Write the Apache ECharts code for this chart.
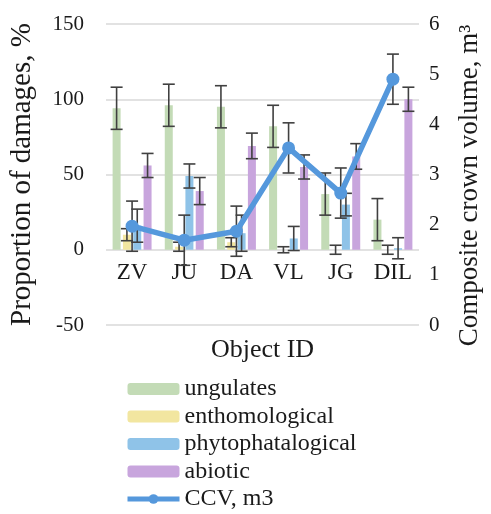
<!DOCTYPE html>
<html>
<head>
<meta charset="utf-8">
<script src="https://cdn.jsdelivr.net/npm/echarts@6/dist/echarts.min.js"></script>
<style>
html,body{margin:0;padding:0;background:#fff;}
#chart{width:491px;height:514px;}
</style>
</head>
<body>
<div id="chart"></div>
<script>
var categories = ['ZV', 'JU', 'DA', 'VL', 'JG', 'DIL'];
var ungulates = [94, 96, 95, 82, 37, 20];
var ungulatesErr = [14, 14, 14, 14, 14, 14];
var enthomological = [10, 2, 5, 0, 0, 0];
var enthomologicalErr = [4, 3, 3, 2, 3, 3];
var phytophatalogical = [16, 49, 11, 7.5, 30, 1];
var phytophatalogicalErr = [11, 8, 12, 8, 7.5, 7];
var abiotic = [56, 39, 69, 55, 62, 100];
var abioticErr = [8, 9, 8.5, 8, 8.5, 8];
var ccv = [1.97, 1.69, 1.87, 3.53, 2.63, 4.9];
var ccvErr = [0.5, 0.5, 0.5, 0.5, 0.5, 0.5];
var leftTicks = [-50, 0, 50, 100, 150];
var rightTicks = [0, 1, 2, 3, 4, 5, 6];

var FONT = '"Liberation Serif", "Times New Roman", serif';
var TXT = '#1a1a1a';
var BAR_W = 8;
var BAR_GAP = 0.29;
var colors = ['#c3dbb6', '#f2e6a0', '#8fc3e8', '#c8a5dd'];
var lineColor = '#5598dc';

var barNames = ['ungulates', 'enthomological', 'phytophatalogical', 'abiotic'];
var barValues = [ungulates, enthomological, phytophatalogical, abiotic];
var barErrs = [ungulatesErr, enthomologicalErr, phytophatalogicalErr, abioticErr];

function errSeries(values, errs, offset, yAxisIndex) {
  var data = values.map(function (v, i) { return [i, v, errs[i]]; });
  return {
    type: 'custom',
    coordinateSystem: 'cartesian2d',
    yAxisIndex: yAxisIndex,
    silent: true,
    z: 5,
    encode: { x: 0, y: 1 },
    data: data,
    renderItem: function (params, api) {
      var c = api.value(0), v = api.value(1), e = api.value(2);
      var top = api.coord([c, v + e]);
      var bot = api.coord([c, v - e]);
      var x = top[0] + offset;
      var hw = 6;
      var st = { stroke: '#404040', lineWidth: 1.6 };
      return {
        type: 'group',
        children: [
          { type: 'line', shape: { x1: x, y1: top[1], x2: x, y2: bot[1] }, style: st },
          { type: 'line', shape: { x1: x - hw, y1: top[1], x2: x + hw, y2: top[1] }, style: st },
          { type: 'line', shape: { x1: x - hw, y1: bot[1], x2: x + hw, y2: bot[1] }, style: st }
        ]
      };
    }
  };
}

var series = [];
barNames.forEach(function (n, i) {
  series.push({
    name: n,
    type: 'bar',
    barWidth: BAR_W,
    barGap: (BAR_GAP * 100) + '%',
    itemStyle: { color: colors[i] },
    data: barValues[i],
    z: 2
  });
});
barNames.forEach(function (n, i) {
  var offset = (i - 1.5) * BAR_W * (1 + BAR_GAP);
  series.push(errSeries(barValues[i], barErrs[i], offset, 0));
});
series.push(errSeries(ccv, ccvErr, 0, 1));
series.push({
  name: 'CCV, m3',
  type: 'line',
  yAxisIndex: 1,
  data: ccv,
  symbol: 'circle',
  symbolSize: 13,
  lineStyle: { color: lineColor, width: 5.5 },
  itemStyle: { color: lineColor },
  z: 10
});

var legendData = barNames.map(function (n) { return { name: n }; });
legendData.push({ name: 'CCV, m3', lineStyle: { width: 5, color: lineColor } });

var chart = echarts.init(document.getElementById('chart'), null, { renderer: 'canvas' });
chart.setOption({
  backgroundColor: '#ffffff',
  animation: false,
  grid: { left: 100, right: 58, top: 24, bottom: 189, containLabel: false },
  legend: {
    data: legendData,
    orient: 'vertical',
    left: 125,
    top: 377,
    height: 137,
    padding: 0,
    itemWidth: 52,
    itemHeight: 12,
    itemGap: 3.5,
    selectedMode: false,
    textStyle: { fontFamily: FONT, fontSize: 24, color: TXT, lineHeight: 24 }
  },
  xAxis: {
    type: 'category',
    data: categories,
    axisLine: { show: false, onZero: false },
    axisTick: { show: false },
    axisLabel: { fontFamily: FONT, fontSize: 23, color: TXT, margin: -64 },
    name: 'Object ID',
    nameLocation: 'middle',
    nameGap: 12,
    nameTextStyle: { fontFamily: FONT, fontSize: 26, color: TXT }
  },
  yAxis: [
    {
      type: 'value',
      min: leftTicks[0],
      max: leftTicks[leftTicks.length - 1],
      interval: 50,
      axisLine: { show: false },
      axisTick: { show: false },
      splitLine: { lineStyle: { color: '#d9d9d9', width: 1.5 } },
      axisLabel: { fontFamily: FONT, fontSize: 21, color: TXT, margin: 22 },
      name: 'Proportion of damages, %',
      nameLocation: 'middle',
      nameGap: 69,
      nameTextStyle: { fontFamily: FONT, fontSize: 29, color: TXT }
    },
    {
      type: 'value',
      position: 'right',
      min: rightTicks[0],
      max: rightTicks[rightTicks.length - 1],
      interval: 1,
      axisLine: { show: false },
      axisTick: { show: false },
      splitLine: { show: false },
      axisLabel: { fontFamily: FONT, fontSize: 21, color: TXT, margin: 10 },
      name: 'Composite crown volume, m³',
      nameLocation: 'middle',
      nameGap: 37,
      nameTextStyle: { fontFamily: FONT, fontSize: 27, color: TXT, padding: [0, 22, 0, 0] }
    }
  ],
  series: series
});
</script>
</body>
</html>
